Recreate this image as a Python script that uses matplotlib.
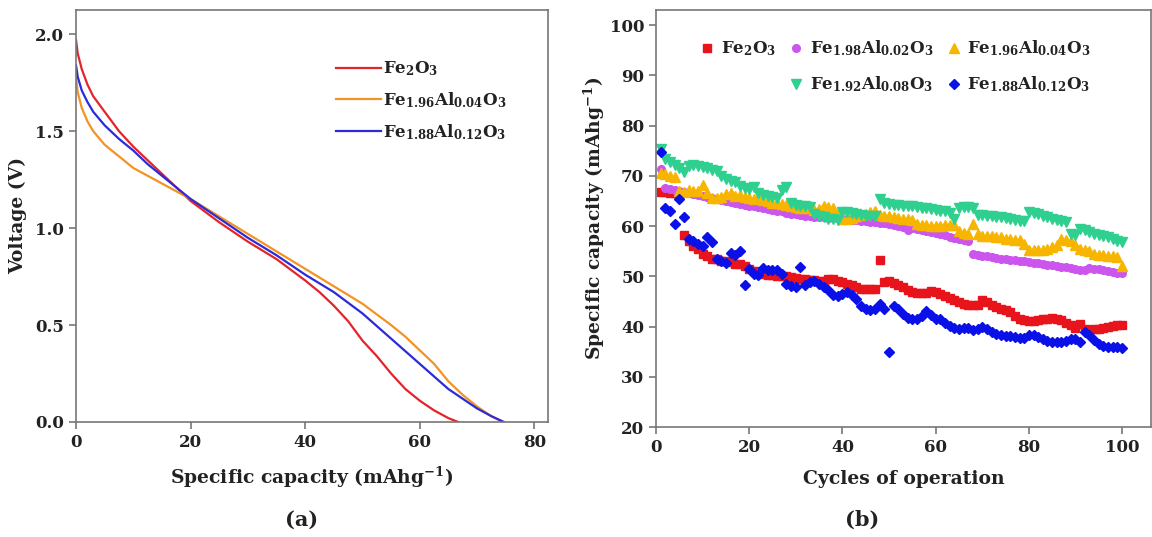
import matplotlib
matplotlib.use('Agg')
import matplotlib.pyplot as plt
from matplotlib.lines import Line2D

plt.rcParams['font.family'] = ['DejaVu Serif']
plt.rcParams['font.weight'] = 'bold'
plt.rcParams['axes.labelweight'] = 'bold'
plt.rcParams['mathtext.fontset'] = 'dejavuserif'
plt.rcParams['mathtext.default'] = 'bf'
plt.rcParams['text.color'] = '#222222'
plt.rcParams['axes.labelcolor'] = '#222222'
plt.rcParams['xtick.color'] = '#777777'
plt.rcParams['ytick.color'] = '#777777'
plt.rcParams['xtick.labelcolor'] = '#222222'
plt.rcParams['ytick.labelcolor'] = '#222222'

# (a) discharge curves: capacity (mAh/g) vs voltage (V)
red_cap = [0, 0.3, 1, 2, 3, 5, 7.5, 10, 12.5, 15, 17.5, 20, 25, 30, 35, 40, 42.5, 45,
           47.5, 50, 52.5, 55, 57.5, 60, 62.5, 65, 66.7]
red_v = [1.97, 1.90, 1.82, 1.74, 1.68, 1.60, 1.50, 1.42, 1.35, 1.28, 1.21, 1.14, 1.03,
         0.93, 0.84, 0.73, 0.67, 0.60, 0.52, 0.42, 0.34, 0.25, 0.17, 0.11, 0.06, 0.02, 0.0]
orange_cap = [0, 0.3, 1, 2, 3, 5, 7.5, 10, 12.5, 15, 17.5, 20, 25, 30, 35, 40, 45, 50,
              55, 57.5, 60, 62.5, 65, 67.5, 70, 72.5, 74.5]
orange_v = [1.78, 1.70, 1.62, 1.55, 1.50, 1.43, 1.37, 1.31, 1.27, 1.23, 1.19, 1.15, 1.06,
            0.97, 0.88, 0.79, 0.70, 0.61, 0.50, 0.44, 0.37, 0.30, 0.21, 0.14, 0.08, 0.03, 0.0]
blue_cap = [0, 0.3, 1, 2, 3, 5, 7.5, 10, 12.5, 15, 17.5, 20, 25, 30, 35, 40, 45, 50, 55,
            60, 65, 70, 72.5, 74.7]
blue_v = [1.84, 1.78, 1.71, 1.65, 1.60, 1.53, 1.46, 1.40, 1.33, 1.27, 1.21, 1.15, 1.05,
          0.95, 0.86, 0.76, 0.67, 0.56, 0.43, 0.30, 0.17, 0.07, 0.03, 0.0]

# (b) cycling, cycles 1..100
cycles = list(range(1, 101))
fe2o3 = [66.8, 66.8, 66.5, 66.5, 66.5, 58.3, 57, 56, 55.5, 54.5,
         54, 53.5, 53.5, 53, 53, 52.8, 52.5, 52.5, 52, 51.5,
         51, 50.8, 50.5, 50.3, 50.2, 50, 50, 50, 49.8, 49.6,
         49.5, 49.5, 49.3, 49.2, 49, 49, 49.5, 49.5, 49, 48.8,
         48.5, 48.3, 47.8, 47.5, 47.5, 47.4, 47.4, 53.3, 48.8, 49,
         48.7, 48.3, 47.8, 47.2, 46.8, 46.6, 46.6, 46.7, 47, 46.9,
         46.5, 46, 45.6, 45.2, 44.8, 44.5, 44.3, 44.2, 44.3, 45.2,
         44.8, 44.2, 43.8, 43.5, 43.3, 42.8, 42, 41.5, 41.3, 41.2,
         41.2, 41.3, 41.5, 41.6, 41.8, 41.6, 41.3, 40.8, 40.3, 39.8,
         40.5, 39.5, 39.4, 39.5, 39.6, 39.8, 40, 40.2, 40.3, 40.3]
al002 = [71.3, 67.6, 67.4, 67.2, 67, 66.8, 66.6, 66.4, 66.2, 66,
         65.8, 65.6, 65.4, 65.2, 65, 64.8, 64.6, 64.4, 64.2, 64,
         63.9, 63.7, 63.5, 63.4, 63.2, 63, 62.9, 62.7, 62.5, 62.4,
         62.2, 62.1, 62, 61.9, 61.8, 61.8, 61.7, 61.6, 61.6, 61.5,
         61.4, 61.3, 61.2, 61.1, 61, 60.9, 60.8, 60.7, 60.6, 60.5,
         60.3, 60.1, 59.9, 59.2, 59.7, 59.5, 59.3, 59.1, 58.9, 58.6,
         58.4, 58.2, 57.9, 57.6, 57.4, 57.2, 57, 54.4, 54.3, 54.1,
         54, 53.8, 53.7, 53.5, 53.4, 53.3, 53.2, 53.1, 53, 52.9,
         52.7, 52.6, 52.5, 52.3, 52.2, 52, 51.9, 51.8, 51.6, 51.4,
         51.3, 51.2, 51.7, 51.5, 51.4, 51.3, 51.1, 50.9, 50.7, 50.6]
al004 = [70.5, 70.3, 70, 69.8, 67, 66.8, 67.2, 67, 67, 68.2,
         66.5, 65.5, 65.5, 65.8, 66.3, 66.5, 66, 66.2, 65.8, 65.5,
         65.3, 65.5, 65.2, 65, 64.5, 64.5, 64.3, 64.2, 64, 63.8,
         63.6, 63.5, 63.5, 63.2, 63.3, 64, 63.8, 63.5, 62.5, 61.5,
         61.5, 61.7, 62, 62.2, 62.5, 62.8, 63, 62.3, 62, 62,
         61.8, 61.7, 61.5, 61.5, 61.3, 60.5, 60.3, 60.2, 60, 60,
         60, 60.2, 60.3, 60.3, 59, 58.7, 58.5, 60.5, 58.5, 58,
         58, 58, 57.8, 57.8, 57.5, 57.5, 57.3, 57.2, 56.5, 55.3,
         55.2, 55.2, 55.3, 55.5, 55.8, 56.3, 57.5, 57.3, 57, 56.3,
         55.5, 55.3, 55, 54.5, 54.3, 54.3, 54.1, 54, 53.8, 52]
al008 = [75.3, 73.3, 72.8, 72.2, 71.5, 70.8, 72, 72.2, 72, 71.8,
         71.5, 71.2, 71, 70, 69.3, 69, 68.8, 68, 67.5, 67.3,
         67.8, 66.5, 66.2, 66, 65.8, 65.5, 67.2, 67.8, 64.5, 64.2,
         64, 64, 63.8, 62.5, 62, 61.8, 61.5, 61.5, 61.3, 62.8,
         62.8, 62.6, 62.5, 62.3, 62.1, 62, 62, 65.3, 64.5, 64.3,
         64.2, 64.2, 64, 64, 63.9, 63.8, 63.6, 63.5, 63.3, 63.2,
         63, 62.9, 62.7, 61.5, 63.5, 63.8, 63.7, 63.5, 62.3, 62.2,
         62.1, 62, 61.9, 61.8, 61.6, 61.5, 61.2, 61, 61, 62.8,
         62.6, 62.4, 62.1, 61.8, 61.5, 61.3, 61.1, 60.9, 58.5, 58.3,
         59.5, 59.3, 58.8, 58.5, 58.3, 58, 57.8, 57.5, 57.1, 56.9]
al012 = [74.8, 63.5, 63, 60.5, 65.3, 61.8, 57.5, 57, 56.5, 56,
         57.8, 56.8, 53.5, 53, 52.6, 54.6, 54.3, 55, 48.2, 51.5,
         50.5, 50.3, 51.7, 51.2, 51.3, 51.2, 50.5, 48.5, 48, 47.8,
         51.8, 48.2, 48.8, 49, 48.5, 47.8, 47.2, 46.2, 46, 46.5,
         46.8, 46.2, 45.5, 44, 43.5, 43.3, 43.5, 44.5, 43.5, 35,
         44, 43.5, 42.5, 41.8, 41.5, 41.5, 42, 43, 42.2, 41.5,
         41.5, 40.8, 40.2, 39.8, 39.5, 39.7, 39.8, 39.3, 39.5, 40,
         39.5, 39, 38.5, 38.3, 38.2, 38.2, 38, 37.8, 37.8, 38.3,
         38.3, 38, 37.5, 37.2, 37, 37, 37, 37.2, 37.5, 37.5,
         37, 39, 38.3, 37.3, 36.5, 36.2, 36, 36, 35.9, 35.8]

fig = plt.figure(figsize=(11.52, 5.37), dpi=100)

def style(ax):
    for s in ['top', 'right', 'left', 'bottom']:
        ax.spines[s].set_color('#777777')
        ax.spines[s].set_linewidth(1.2)
    ax.tick_params(axis='both', which='major', labelsize=12, length=5, width=1.2,
                   direction='out', top=False, right=False)

# ---- (a)
ax1 = fig.add_axes([0.066, 0.2142, 0.4097, 0.7672])
ax1.plot(red_cap, red_v, color='#e3242b', lw=1.6, label='Fe$_2$O$_3$')
ax1.plot(orange_cap, orange_v, color='#f39323', lw=1.6, label='Fe$_{1.96}$Al$_{0.04}$O$_3$')
ax1.plot(blue_cap, blue_v, color='#2b2bd9', lw=1.6, label='Fe$_{1.88}$Al$_{0.12}$O$_3$')
ax1.set_xlim(0, 82.4)
ax1.set_ylim(0, 2.125)
ax1.set_xticks([0, 20, 40, 60, 80])
ax1.set_yticks([0.0, 0.5, 1.0, 1.5, 2.0])
ax1.set_yticklabels(['0.0', '0.5', '1.0', '1.5', '2.0'])
style(ax1)
ax1.set_xlabel('Specific capacity (mAhg$^{-1}$)', fontsize=13.5, labelpad=10)
ax1.set_ylabel('Voltage (V)', fontsize=13.5, labelpad=6)
ax1.legend(loc='upper left', bbox_to_anchor=(0.55, 0.88), frameon=False, fontsize=12,
           handlelength=2.7, handletextpad=0.15, labelspacing=0.72, borderpad=0,
           borderaxespad=0)
fig.text(0.262, 0.02, '(a)', ha='center', fontsize=15)

# ---- (b)
ax2 = fig.add_axes([0.5694, 0.2048, 0.4297, 0.7765])
ms = 5.5
p1, = ax2.plot(cycles, fe2o3, 's', color='#e8141b', ms=ms, label='Fe$_2$O$_3$')
p2, = ax2.plot(cycles, al002, 'o', color='#cc55ee', ms=ms, label='Fe$_{1.98}$Al$_{0.02}$O$_3$')
p3, = ax2.plot(cycles, al004, '^', color='#f7b500', ms=ms + 1, label='Fe$_{1.96}$Al$_{0.04}$O$_3$')
p4, = ax2.plot(cycles, al008, 'v', color='#2fd08f', ms=ms + 1, label='Fe$_{1.92}$Al$_{0.08}$O$_3$')
p5, = ax2.plot(cycles, al012, 'D', color='#0a10e8', ms=ms, label='Fe$_{1.88}$Al$_{0.12}$O$_3$')
ax2.set_xlim(0, 106.2)
ax2.set_ylim(20, 103)
ax2.set_xticks([0, 20, 40, 60, 80, 100])
ax2.set_yticks(range(20, 101, 10))
style(ax2)
ax2.set_xlabel('Cycles of operation', fontsize=13.5, labelpad=10)
ax2.set_ylabel('Specific capacity (mAhg$^{-1}$)', fontsize=13.5, labelpad=2)
blank = Line2D([], [], linestyle='none')
ax2.legend([p1, blank, p2, p4, p3, p5],
           ['Fe$_2$O$_3$', '', 'Fe$_{1.98}$Al$_{0.02}$O$_3$', 'Fe$_{1.92}$Al$_{0.08}$O$_3$',
            'Fe$_{1.96}$Al$_{0.04}$O$_3$', 'Fe$_{1.88}$Al$_{0.12}$O$_3$'],
           ncol=3, loc='upper left', bbox_to_anchor=(0.09, 0.932), frameon=False,
           fontsize=12, handlelength=0.8, handletextpad=0.4, columnspacing=0.85,
           labelspacing=1.0, borderpad=0, borderaxespad=0)
fig.text(0.748, 0.02, '(b)', ha='center', fontsize=15)

fig.savefig('out.png', dpi=100)
